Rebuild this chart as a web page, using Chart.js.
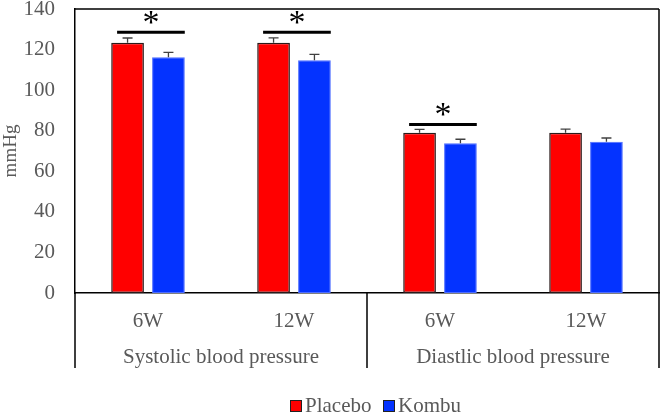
<!DOCTYPE html>
<html>
<head>
<meta charset="utf-8">
<script src="https://cdn.jsdelivr.net/npm/chart.js@4"></script>
<style>
  html, body { margin: 0; padding: 0; background: #fff; }
  #wrap { width: 664px; height: 414px; }
</style>
</head>
<body>
<div id="wrap"><canvas id="bpChart" width="664" height="414"></canvas></div>
<script>
var categories = ["6W", "12W", "6W", "12W"];
var groups = ["Systolic blood pressure", "Diastlic blood pressure"];
var placebo = [123.4, 123.4, 79.0, 79.0];
var kombu = [116.2, 114.7, 73.8, 74.6];
var placeboErr = [2.3, 2.4, 1.7, 1.8];
var kombuErr = [2.4, 2.9, 2.0, 1.8];
var sigCats = [0, 1, 2];
var sigLevels = [128.6, 128.6, 83.1];

var textGrey = "#595959";
var serif = "'Liberation Serif', 'Times New Roman', serif";

var errorBarPlugin = {
  id: 'errorBars',
  afterDatasetsDraw: function (chart) {
    var ctx = chart.ctx;
    var y = chart.scales.y;
    var errs = [placeboErr, kombuErr];
    ctx.save();
    ctx.strokeStyle = "#404040";
    ctx.lineWidth = 1.3;
    chart.data.datasets.forEach(function (ds, i) {
      var meta = chart.getDatasetMeta(i);
      meta.data.forEach(function (bar, j) {
        var top = y.getPixelForValue(ds.data[j] + errs[i][j]);
        var base = y.getPixelForValue(ds.data[j]);
        ctx.beginPath();
        ctx.moveTo(bar.x, base);
        ctx.lineTo(bar.x, top);
        ctx.moveTo(bar.x - 5, top);
        ctx.lineTo(bar.x + 5, top);
        ctx.stroke();
      });
    });
    ctx.restore();
  }
};

var sigPlugin = {
  id: 'significance',
  afterDatasetsDraw: function (chart) {
    var ctx = chart.ctx;
    var y = chart.scales.y;
    var red = chart.getDatasetMeta(0).data;
    var blue = chart.getDatasetMeta(1).data;
    ctx.save();
    ctx.strokeStyle = "#000";
    ctx.fillStyle = "#000";
    ctx.lineWidth = 3;
    sigCats.forEach(function (c, k) {
      var x0 = red[c].x - red[c].width * 0.32;
      var x1 = blue[c].x + blue[c].width * 0.5;
      var yy = y.getPixelForValue(sigLevels[k]);
      ctx.beginPath();
      ctx.moveTo(x0, yy);
      ctx.lineTo(x1, yy);
      ctx.stroke();
      ctx.font = "34px " + serif;
      ctx.textAlign = "center";
      ctx.textBaseline = "middle";
      ctx.fillText("*", (x0 + x1) / 2, yy - 8);
    });
    ctx.restore();
  }
};

var framePlugin = {
  id: 'frame',
  afterDraw: function (chart) {
    var ctx = chart.ctx;
    var a = chart.chartArea;
    var x = chart.scales.x;
    var lower = 368;
    var mid = (x.getPixelForValue(1) + x.getPixelForValue(2)) / 2;
    ctx.save();
    ctx.strokeStyle = "#000";
    ctx.lineWidth = 1.5;
    ctx.beginPath();
    ctx.moveTo(a.left, a.top);
    ctx.lineTo(a.right, a.top);
    ctx.moveTo(a.right, a.top);
    ctx.lineTo(a.right, lower);
    ctx.moveTo(a.left, a.bottom);
    ctx.lineTo(a.left, lower);
    ctx.moveTo(mid, a.bottom);
    ctx.lineTo(mid, lower);
    ctx.stroke();

    // group labels
    ctx.fillStyle = textGrey;
    ctx.font = "21px " + serif;
    ctx.textAlign = "center";
    ctx.textBaseline = "middle";
    ctx.fillText(groups[0], (a.left + mid) / 2, 357);
    ctx.fillText(groups[1], (mid + a.right) / 2, 357);

    // legend
    var items = [
      { label: chart.data.datasets[0].label, color: "#ff0000", x: 290 },
      { label: chart.data.datasets[1].label, color: "#0433ff", x: 383 }
    ];
    items.forEach(function (it) {
      ctx.fillStyle = it.color;
      ctx.fillRect(it.x, 400, 12, 12);
      ctx.strokeStyle = "#222";
      ctx.lineWidth = 1;
      ctx.strokeRect(it.x + 0.5, 400.5, 11, 11);
      ctx.fillStyle = textGrey;
      ctx.textAlign = "left";
      ctx.fillText(it.label, it.x + 15, 406);
    });
    ctx.restore();
  }
};

var ctx = document.getElementById("bpChart").getContext("2d");
var bpChart = new Chart(ctx, {
  type: 'bar',
  data: {
    labels: categories,
    datasets: [{
      label: 'Placebo',
      data: placebo,
      backgroundColor: "#ff0000",
      borderColor: "#2a1a1a",
      borderWidth: 1.5,
      borderSkipped: false
    }, {
      label: 'Kombu',
      data: kombu,
      backgroundColor: "#0433ff",
      borderColor: "#4d6dff",
      borderWidth: 1,
      borderSkipped: false
    }]
  },
  options: {
    responsive: false,
    animation: false,
    layout: { padding: { top: 9, right: 5, left: 0, bottom: 0 } },
    categoryPercentage: 0.56,
    barPercentage: 0.8,
    plugins: {
      legend: { display: false },
      tooltip: { enabled: false }
    },
    scales: {
      x: {
        grid: { display: false },
        border: { display: true, color: "#000", width: 1.5 },
        ticks: {
          color: textGrey,
          font: { family: serif, size: 21 },
          padding: 8
        },
        afterFit: function (scale) {
          scale.height = 121;
          scale.paddingLeft = 0;
          scale.paddingRight = 0;
        }
      },
      y: {
        min: 0,
        max: 140,
        grid: { display: false },
        border: { display: true, color: "#000", width: 1.5 },
        ticks: {
          stepSize: 20,
          color: textGrey,
          font: { family: serif, size: 21 },
          padding: 12
        },
        title: {
          display: true,
          text: 'mmHg',
          color: textGrey,
          font: { family: serif, size: 19 },
          padding: 0
        },
        afterFit: function (scale) {
          scale.width = 75;
          scale.paddingTop = 0;
          scale.paddingBottom = 0;
        }
      }
    }
  },
  plugins: [errorBarPlugin, sigPlugin, framePlugin]
});
</script>
</body>
</html>
